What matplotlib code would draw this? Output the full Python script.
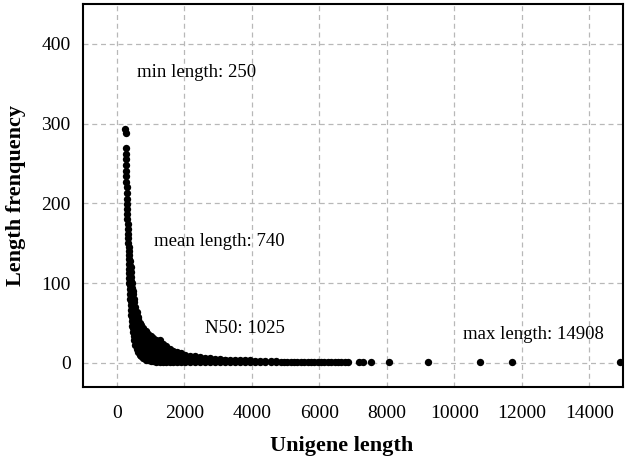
import numpy as np
import matplotlib
matplotlib.use("Agg")
import matplotlib.pyplot as plt

plt.rcParams['font.family'] = ['Liberation Serif', 'DejaVu Serif']

# steep head of the distribution (one point per length)
steep_len = [250, 252, 256, 260, 264, 268, 272, 276, 280, 284, 288, 292, 296,
             300, 305, 310, 315, 320, 326, 332, 338, 344, 350]
steep_freq = [293, 288, 270, 262, 255, 248, 241, 234, 227, 220, 213, 206, 199,
              193, 186, 180, 174, 168, 162, 156, 150, 145, 140]

# noisy band: several observed frequencies per length
band_len = [360, 380, 400, 430, 460, 500, 540, 580, 620, 670, 720, 780, 850,
            920, 1000, 1080, 1160, 1260, 1360, 1460, 1560, 1660, 1780, 1900,
            2020, 2150, 2300, 2450, 2600, 2750, 2900, 3050, 3200, 3350, 3500,
            3650, 3800, 3950, 4100, 4250, 4400, 4550, 4700]
band_freq = [
    [100, 106, 112, 118, 124, 130, 135],
    [80, 86, 92, 98, 104, 110, 116, 122, 128],
    [60, 66, 72, 78, 84, 90, 96, 102, 108, 114, 120],
    [46, 52, 58, 64, 70, 76, 82, 88, 94, 100],
    [38, 44, 50, 56, 62, 68, 74, 80, 86, 90],
    [28, 34, 40, 46, 52, 58, 64, 70, 76, 80],
    [22, 28, 34, 40, 46, 52, 58, 64, 70],
    [17, 23, 29, 35, 41, 47, 53, 59, 64],
    [13, 19, 25, 31, 37, 43, 49, 55, 58],
    [10, 16, 22, 28, 34, 40, 46, 50],
    [8, 14, 20, 26, 32, 38, 44, 47],
    [6, 12, 18, 24, 30, 36, 42, 44],
    [4, 10, 16, 22, 28, 34, 38, 40],
    [3, 9, 15, 21, 27, 33, 36],
    [2, 8, 14, 20, 26, 32, 34],
    [2, 8, 14, 20, 26, 31],
    [1, 7, 13, 19, 25, 29],
    [1, 7, 13, 19, 25, 28],
    [1, 7, 13, 19, 24],
    [1, 7, 13, 19, 21],
    [1, 6, 12, 17],
    [1, 6, 11, 15],
    [1, 6, 11, 14],
    [1, 6, 11, 12],
    [1, 6, 10],
    [1, 5, 9],
    [1, 5, 8],
    [1, 4, 7],
    [1, 4, 6],
    [1, 3, 6],
    [1, 3, 5],
    [1, 3, 5],
    [1, 3, 4],
    [1, 2, 4],
    [1, 2, 4],
    [1, 2, 3],
    [1, 2, 3],
    [1, 2, 3],
    [1, 2],
    [1, 2],
    [1, 2],
    [1, 2],
    [1, 2],
]

# long tail, single unigenes
tail_len = [4850, 4950, 5050, 5150, 5250, 5350, 5450, 5550, 5650, 5750, 5850,
            5950, 6050, 6150, 6250, 6350, 6450, 6550, 6650, 6750, 6850,
            7180, 7300, 7530, 8070, 9210, 10770, 11700, 14908]
tail_freq = [1] * len(tail_len)

notes = ["min length: 250", "mean length: 740", "N50: 1025", "max length: 14908"]
note_x = [580, 1100, 2600, 10250]
note_y = [364, 152, 43, 35]

x = list(steep_len) + list(tail_len)
y = list(steep_freq) + list(tail_freq)
for L, fs in zip(band_len, band_freq):
    x += [L] * len(fs)
    y += fs

fig = plt.figure(figsize=(6.3, 4.62), dpi=100)
ax = fig.add_axes([0.1322, 0.163, 0.8567, 0.8283])

ax.scatter(x, y, s=28, color='black', linewidths=0, zorder=3)

ax.set_xlim(-1000, 15000)
ax.set_ylim(-30, 450)
ax.set_xticks(np.arange(0, 15000, 2000))
ax.set_yticks(np.arange(0, 500, 100))
ax.grid(True, color='#b8b8b8', linestyle=(0, (4, 3)), linewidth=0.9)
ax.set_axisbelow(True)
ax.tick_params(length=0, labelsize=14)
ax.tick_params(axis='x', pad=13)
ax.tick_params(axis='y', pad=9)
for sp in ax.spines.values():
    sp.set_linewidth(1.5)

for t, tx, ty in zip(notes, note_x, note_y):
    ax.text(tx, ty, t, fontsize=13.5, ha='left', va='center')

ax.set_xlabel('Unigene length', fontsize=16, fontweight='bold')
ax.set_ylabel('Length frenquency', fontsize=16, fontweight='bold')
ax.xaxis.set_label_coords(0.478, -0.128)
ax.yaxis.set_label_coords(-0.107, 0.5)

fig.savefig('out.png', dpi=100)
